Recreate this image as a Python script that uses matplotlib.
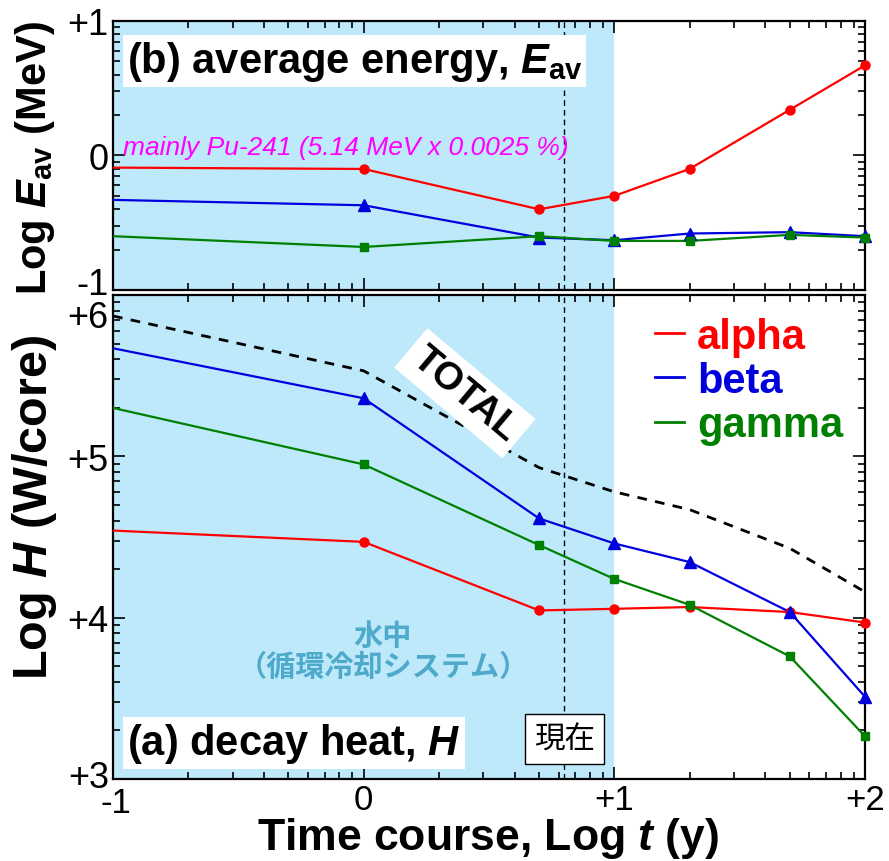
import matplotlib
matplotlib.use("Agg")
import matplotlib.pyplot as plt
import matplotlib.transforms as mtransforms
from matplotlib.lines import Line2D
from matplotlib.ticker import LogLocator, FixedLocator, FixedFormatter, NullFormatter

plt.rcParams['font.family'] = ['Liberation Sans', 'Noto Sans CJK JP', 'DejaVu Sans']
plt.rcParams['mathtext.fontset'] = 'custom'
plt.rcParams['mathtext.rm'] = 'Liberation Sans:bold'
plt.rcParams['mathtext.it'] = 'Liberation Sans:italic:bold'
plt.rcParams['mathtext.bf'] = 'Liberation Sans:bold'

# time course, log10 of years (first point = left edge, no marker)
log_t = [-1, 0, 0.7, 1, 1.3, 1.7, 2]
log_now = 0.8

# (b) average energy, log10 MeV
eav_alpha = [-0.09, -0.10, -0.40, -0.30, -0.10, 0.34, 0.67]
eav_beta = [-0.33, -0.37, -0.61, -0.63, -0.58, -0.57, -0.60]
eav_gamma = [-0.60, -0.68, -0.60, -0.635, -0.635, -0.59, -0.61]

# (a) decay heat, log10 W/core
h_alpha = [4.54, 4.47, 4.045, 4.055, 4.066, 4.035, 3.97]
h_beta = [5.67, 5.36, 4.615, 4.46, 4.345, 4.035, 3.51]
h_gamma = [5.30, 4.95, 4.45, 4.24, 4.08, 3.76, 3.265]
h_total = [5.87, 5.53, 4.93, 4.78, 4.67, 4.43, 4.16]

names = ['alpha', 'beta', 'gamma']
colors = ['#ff0000', '#0000dd', '#008000']
markers = ['o', '^', 's']
msizes = [6.5, 9, 6]

x_ticks = [-1, 0, 1, 2]
x_labels = ['-1', '0', '+1', '+2']
eav_ticks = [-1, 0, 1]
eav_labels = ['-1', '0', '+1']
h_ticks = [3, 4, 5, 6]
h_labels = ['+3', '+4', '+5', '+6']

shade = '#bde9fb'

fig = plt.figure(figsize=(8.89, 8.62), dpi=100)
ax_b = fig.add_axes([0.1271, 0.6624, 0.8459, 0.3121])
ax_a = fig.add_axes([0.1271, 0.0951, 0.8459, 0.5615])

t = [10 ** v for v in log_t]


def style_axis(ax, yt, ylab, show_x):
    ax.set_xscale('log')
    ax.set_yscale('log')
    ax.set_xlim(10 ** x_ticks[0], 10 ** x_ticks[-1])
    ax.set_ylim(10 ** yt[0], 10 ** yt[-1])
    ax.xaxis.set_major_locator(FixedLocator([10 ** v for v in x_ticks]))
    ax.xaxis.set_minor_locator(LogLocator(base=10, subs=range(2, 10)))
    ax.xaxis.set_minor_formatter(NullFormatter())
    if show_x:
        ax.xaxis.set_major_formatter(FixedFormatter(x_labels))
    else:
        ax.xaxis.set_major_formatter(NullFormatter())
    ax.yaxis.set_major_locator(FixedLocator([10 ** v for v in yt]))
    ax.yaxis.set_major_formatter(FixedFormatter(ylab))
    ax.yaxis.set_minor_locator(LogLocator(base=10, subs=range(2, 10)))
    ax.yaxis.set_minor_formatter(NullFormatter())
    ax.tick_params(which='both', direction='in', top=True, right=True,
                   width=1.2, labelsize=26)
    ax.tick_params(which='major', length=8.5, pad=3)
    ax.tick_params(which='minor', length=5)
    ax.tick_params(axis='x', which='major', pad=3, labelsize=25)
    for s in ax.spines.values():
        s.set_linewidth(1.6)
    ax.axvspan(10 ** -1, 10 ** 1, color=shade, zorder=0, lw=0)
    ax.axvline(10 ** log_now, color='black', lw=1, ls=(0, (4, 3)), zorder=1.5)


style_axis(ax_b, eav_ticks, eav_labels, False)
style_axis(ax_a, h_ticks, h_labels, True)

# top panel
for vals, c, m, ms in zip([eav_alpha, eav_beta, eav_gamma], colors, markers, msizes):
    ax_b.plot(t, [10 ** v for v in vals], color=c, lw=1.6, zorder=3)
    ax_b.plot(t[1:], [10 ** v for v in vals[1:]], ls='none', marker=m, ms=ms,
              color=c, zorder=4, clip_on=False)

# bottom panel
ax_a.plot(t, [10 ** v for v in h_total], color='black', lw=2, ls=(0, (3.5, 3)), zorder=3)
for vals, c, m, ms in zip([h_alpha, h_beta, h_gamma], colors, markers, msizes):
    ax_a.plot(t, [10 ** v for v in vals], color=c, lw=1.6, zorder=3)
    ax_a.plot(t[1:], [10 ** v for v in vals[1:]], ls='none', marker=m, ms=ms,
              color=c, zorder=4, clip_on=False)


def nudge(label, dx, dy):
    label.set_transform(label.get_transform() +
                        mtransforms.ScaledTranslation(dx / 100, dy / 100, fig.dpi_scale_trans))


# crowded labels at the panel joint and the lower-left corner
nudge(ax_b.yaxis.get_major_ticks()[0].label1, 0, 10)
nudge(ax_a.yaxis.get_major_ticks()[-1].label1, 0, -18)
nudge(ax_a.yaxis.get_major_ticks()[0].label1, 0, 6)
nudge(ax_a.xaxis.get_major_ticks()[0].label1, 3, -3)

# texts
ax_b.text(0.0186, 0.851, r'(b) average energy, $E_{\rm av}$', transform=ax_b.transAxes,
          fontsize=30, fontweight='bold', ha='left', va='center', zorder=6,
          bbox=dict(boxstyle='square,pad=0.1', fc='white', ec='none'))
ax_b.text(0.013, 0.532, 'mainly Pu-241 (5.14 MeV x 0.0025 %)', transform=ax_b.transAxes,
          fontsize=19, fontstyle='italic', color='#ff00ff', ha='left', va='center', zorder=6)

ax_a.text(0.0186, 0.0744, r'(a) decay heat, $H$', transform=ax_a.transAxes,
          fontsize=30, fontweight='bold', ha='left', va='center', zorder=6,
          bbox=dict(boxstyle='square,pad=0.1', fc='white', ec='none'))
ax_a.text(0.468, 0.797, 'TOTAL', transform=ax_a.transAxes, fontsize=28, fontweight='bold',
          rotation=-40, rotation_mode='anchor', ha='center', va='center', zorder=6,
          bbox=dict(boxstyle='square,pad=0.2', fc='white', ec='none'))
ax_a.text(0.359, 0.2975, '水中', transform=ax_a.transAxes, fontsize=21, fontweight='bold',
          color='#4eaacb', ha='center', va='center', family=['Noto Sans CJK JP'])
ax_a.text(0.359, 0.233, '（循環冷却システム）', transform=ax_a.transAxes, fontsize=21,
          fontweight='bold', color='#4eaacb', ha='center', va='center',
          family=['Noto Sans CJK JP'])
ax_a.text(10 ** log_now, 0.0826, '現在', transform=ax_a.get_xaxis_transform(), fontsize=22,
          ha='center', va='center', zorder=6, family=['Noto Sans CJK JP'],
          bbox=dict(boxstyle='square,pad=0.3', fc='white', ec='black', lw=1))

handles = [Line2D([], [], color=c, lw=2) for c in colors]
ax_a.legend(handles, names, loc='upper left', bbox_to_anchor=(0.721, 0.955), frameon=False,
            prop=dict(size=30, weight='bold'), labelcolor='linecolor', handlelength=0.7,
            handletextpad=0.3, labelspacing=0.1, borderpad=0, borderaxespad=0)

fig.text(0.039, 0.8167, r'Log $E_{\rm av}$ (MeV)', rotation=90, fontsize=30,
         fontweight='bold', ha='center', va='center')
fig.text(0.039, 0.4118, r'Log $H$ (W/core)', rotation=90, fontsize=35,
         fontweight='bold', ha='center', va='center')
fig.text(0.549, 1 - 850 / 862, r'Time course, Log $t$ (y)', fontsize=32, fontweight='bold',
         ha='center', va='baseline')

fig.savefig('out.png', dpi=100)
